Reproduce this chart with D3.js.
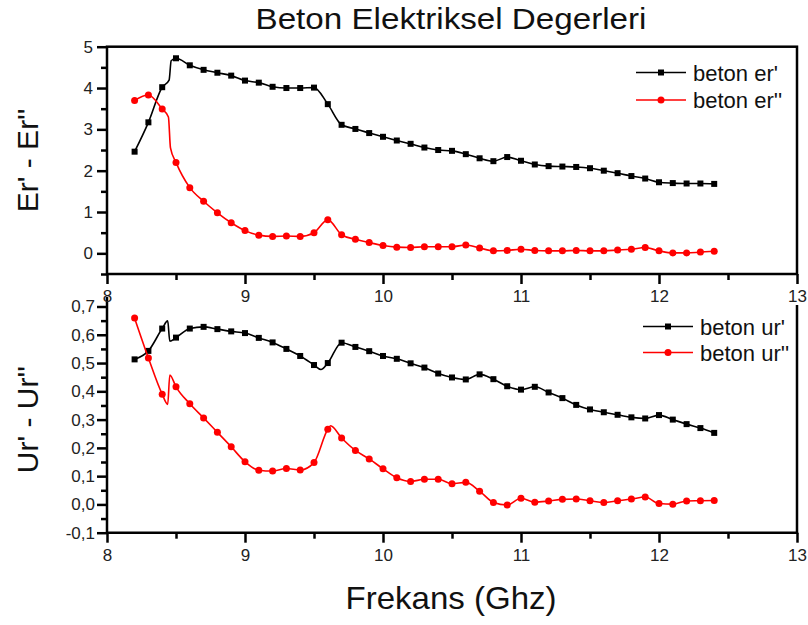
<!DOCTYPE html>
<html><head><meta charset="utf-8">
<script src="https://cdn.jsdelivr.net/npm/d3@7"></script>
<style>body{margin:0;background:#fff}svg{font-family:Arial,"Liberation Sans",sans-serif}</style>
</head><body>
<svg id="c" width="808" height="625"></svg>
<script>
const title = "Beton Elektriksel Degerleri";
const xLabel = "Frekans (Ghz)";
const yLabelTop = "Er' - Er''";
const yLabelBottom = "Ur' - Ur''";
const xTicks = [8, 9, 10, 11, 12, 13];
const yTicksTop = [0, 1, 2, 3, 4, 5];
const yTicksBottom = [-0.1, 0, 0.1, 0.2, 0.3, 0.4, 0.5, 0.6, 0.7];

const freq = [8.2,8.3,8.4,8.5,8.6,8.7,8.8,8.9,
  9.0,9.1,9.2,9.3,9.4,9.5,9.6,9.7,9.8,9.9,
  10.0,10.1,10.2,10.3,10.4,10.5,10.6,10.7,10.8,10.9,
  11.0,11.1,11.2,11.3,11.4,11.5,11.6,11.7,11.8,11.9,
  12.0,12.1,12.2,12.3,12.4];

const erP = [2.46,3.17,4.02,4.72,4.55,4.44,4.37,4.30,
  4.18,4.13,4.03,4.00,4.00,4.01,3.61,3.11,3.01,2.91,
  2.82,2.73,2.65,2.56,2.50,2.48,2.40,2.30,2.23,2.33,
  2.24,2.15,2.11,2.10,2.09,2.06,2.00,1.94,1.87,1.81,
  1.72,1.70,1.69,1.69,1.68];
const erPP = [3.70,3.83,3.49,2.20,1.59,1.26,0.98,0.74,
  0.55,0.44,0.41,0.42,0.41,0.50,0.81,0.45,0.34,0.26,
  0.19,0.15,0.14,0.16,0.16,0.16,0.20,0.13,0.06,0.07,
  0.10,0.07,0.06,0.06,0.07,0.06,0.06,0.08,0.10,0.14,
  0.06,0.01,0.01,0.03,0.05];
const urP = [0.513,0.543,0.622,0.590,0.622,0.628,0.620,0.612,
  0.606,0.589,0.573,0.550,0.525,0.493,0.500,0.572,0.557,0.542,
  0.525,0.515,0.499,0.484,0.463,0.449,0.442,0.460,0.443,0.418,
  0.406,0.416,0.396,0.376,0.352,0.336,0.326,0.317,0.308,0.304,
  0.316,0.300,0.284,0.270,0.253];
const urPP = [0.659,0.518,0.390,0.416,0.356,0.306,0.255,0.204,
  0.151,0.121,0.118,0.127,0.122,0.148,0.266,0.235,0.191,0.161,
  0.126,0.094,0.081,0.089,0.089,0.073,0.078,0.047,0.007,-0.002,
  0.022,0.008,0.012,0.018,0.019,0.013,0.007,0.013,0.019,0.026,
  0.003,0.001,0.012,0.013,0.014];

// extra measured points on the lines (no marker drawn on them)
const erPExtra = [[8.45,4.19],[8.465,4.66]];
const erPPExtra = [[8.445,3.30],[8.46,2.55]];
const urPExtra = [[8.44,0.649],[8.455,0.577],[9.55,0.477]];
const urPPExtra = [[8.44,0.354],[8.455,0.458],[9.62,0.278]];

const svg = d3.select("#c");
const x = d3.scaleLinear([8, 13], [107, 797]);
const yTop = d3.scaleLinear([-0.5, 5], [274, 46.7]);
const yBot = d3.scaleLinear([-0.1, 0.7], [532.7, 306.5]);
const AW = 2.5;

function minorRange(a, b, step) { const r = []; for (let v = a; v <= b + 1e-9; v += step) r.push(+v.toFixed(3)); return r; }

function styleAxis(g) {
  g.select(".domain").remove();
  g.selectAll(".tick line").attr("stroke", "#000").attr("stroke-width", AW);
  g.selectAll(".tick text").attr("font-size", 17).attr("fill", "#222").attr("font-family", "Arial, 'Liberation Sans', sans-serif");
}

// ---- top panel frame
svg.append("rect").attr("x", x(8)).attr("y", yTop(5)).attr("width", x(13) - x(8)).attr("height", yTop(-0.5) - yTop(5))
  .attr("fill", "none").attr("stroke", "#000").attr("stroke-width", AW);
// ---- bottom panel frame (no top edge)
svg.append("path").attr("d", `M${x(8)},297 L${x(8)},${yBot(-0.1)} L${x(13)},${yBot(-0.1)} L${x(13)},305`)
  .attr("fill", "none").attr("stroke", "#000").attr("stroke-width", AW);

// x axes
[[yTop(-0.5)], [yBot(-0.1)]].forEach(([yy]) => {
  svg.append("g").attr("transform", `translate(0,${yy})`)
    .call(d3.axisBottom(x).tickValues(minorRange(8.5, 12.5, 1)).tickSize(6).tickFormat(""))
    .call(styleAxis);
  svg.append("g").attr("transform", `translate(0,${yy})`)
    .call(d3.axisBottom(x).tickValues(xTicks).tickSize(10).tickPadding(6).tickFormat(d3.format("d")))
    .call(styleAxis);
});

// y axes
svg.append("g").attr("transform", `translate(${x(8)},0)`)
  .call(d3.axisLeft(yTop).tickValues(minorRange(-0.5, 4.5, 1)).tickSize(6).tickFormat(""))
  .call(styleAxis);
svg.append("g").attr("transform", `translate(${x(8)},0)`)
  .call(d3.axisLeft(yTop).tickValues(yTicksTop).tickSize(10).tickPadding(4).tickFormat(d3.format("d")))
  .call(styleAxis);
svg.append("g").attr("transform", `translate(${x(8)},0)`)
  .call(d3.axisLeft(yBot).tickValues(minorRange(-0.05, 0.65, 0.1)).tickSize(6).tickFormat(""))
  .call(styleAxis);
svg.append("g").attr("transform", `translate(${x(8)},0)`)
  .call(d3.axisLeft(yBot).tickValues(yTicksBottom).tickSize(10).tickPadding(2)
    .tickFormat(d => d3.format(".1f")(d).replace(".", ",").replace("−", "-")))
  .call(styleAxis);

// series
function drawSeries(vals, extra, yS, color, shape) {
  const pts = freq.map((f, i) => [f, vals[i]]);
  const linePts = pts.concat(extra).sort((a, b) => a[0] - b[0]);
  svg.append("path").datum(linePts)
    .attr("d", d3.line().x(d => x(d[0])).y(d => yS(d[1])).curve(d3.curveMonotoneX))
    .attr("fill", "none").attr("stroke", color).attr("stroke-width", 1.6);
  if (shape === "square") {
    svg.append("g").selectAll("rect").data(pts).join("rect")
      .attr("x", d => x(d[0]) - 3).attr("y", d => yS(d[1]) - 3).attr("width", 6).attr("height", 6).attr("fill", color);
  } else {
    svg.append("g").selectAll("circle").data(pts).join("circle")
      .attr("cx", d => x(d[0])).attr("cy", d => yS(d[1])).attr("r", 3.5).attr("fill", color);
  }
}
drawSeries(erP, erPExtra, yTop, "#000", "square");
drawSeries(erPP, erPPExtra, yTop, "#ff0000", "circle");
drawSeries(urP, urPExtra, yBot, "#000", "square");
drawSeries(urPP, urPPExtra, yBot, "#ff0000", "circle");

// legends
function legend(x0, y0, label, color, shape) {
  svg.append("line").attr("x1", x0).attr("x2", x0 + 50).attr("y1", y0).attr("y2", y0).attr("stroke", color).attr("stroke-width", 1.6);
  if (shape === "square") svg.append("rect").attr("x", x0 + 22).attr("y", y0 - 3).attr("width", 6).attr("height", 6).attr("fill", color);
  else svg.append("circle").attr("cx", x0 + 25).attr("cy", y0).attr("r", 3.5).attr("fill", color);
  svg.append("text").attr("x", x0 + 57).attr("y", y0 + 8).attr("font-size", 22).attr("fill", "#111").text(label);
}
legend(636, 72.5, "beton er'", "#000", "square");
legend(636, 100, "beton er''", "#ff0000", "circle");
legend(643, 326.5, "beton ur'", "#000", "square");
legend(643, 352.5, "beton ur''", "#ff0000", "circle");

// titles
svg.append("text").attr("x", 451).attr("y", 29).attr("text-anchor", "middle").attr("font-size", 29)
  .attr("textLength", 391).attr("lengthAdjust", "spacingAndGlyphs").attr("fill", "#111").text(title);
svg.append("text").attr("x", 451).attr("y", 609).attr("text-anchor", "middle").attr("font-size", 32)
  .attr("textLength", 211).attr("lengthAdjust", "spacingAndGlyphs").attr("fill", "#111").text(xLabel);
svg.append("text").attr("transform", `translate(38,${(yTop(5) + yTop(-0.5)) / 2}) rotate(-90)`).attr("text-anchor", "middle")
  .attr("font-size", 30).attr("fill", "#111").text(yLabelTop);
svg.append("text").attr("transform", `translate(38,${(yBot(0.7) + yBot(-0.1)) / 2}) rotate(-90)`).attr("text-anchor", "middle")
  .attr("font-size", 30).attr("fill", "#111").text(yLabelBottom);
</script>
</body></html>
